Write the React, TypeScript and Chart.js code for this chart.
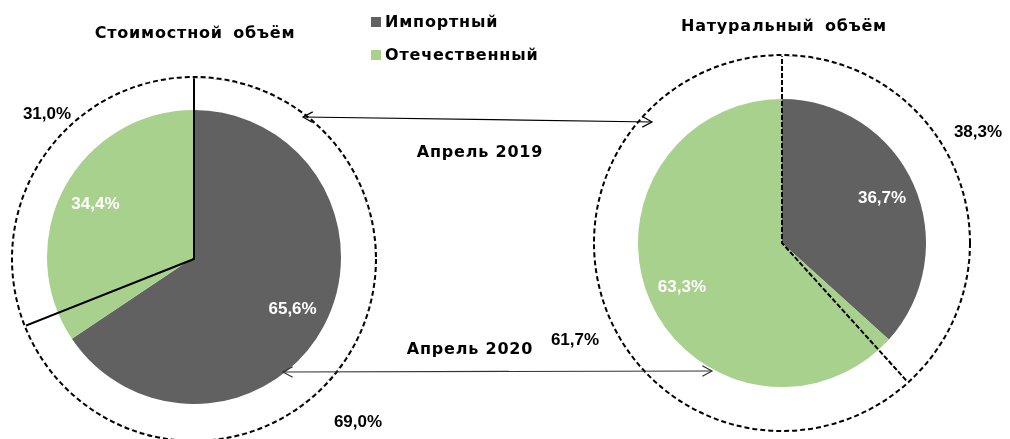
import React, { useEffect, useRef } from "react";
import { Chart, registerables } from "chart.js";

Chart.register(...registerables);

// ---- data ----
const categories = ["Импортный", "Отечественный"];
const valueShare2020 = [65.6, 34.4];
const valueShare2019 = [69.0, 31.0];
const volumeShare2020 = [36.7, 63.3];
const volumeShare2019 = [38.3, 61.7];
const chartTitles = ["Стоимостной объём", "Натуральный объём"];
const periodLabels = ["Апрель 2019", "Апрель 2020"];

const colors = ["#616161", "#A9D18E"];
const fmt = (v: number) => v.toFixed(1).replace(".", ",") + "%";

const NUM_FONT = "'Liberation Sans', Arial, sans-serif";
const TXT_FONT = "'DejaVu Sans', Verdana, sans-serif";

// white labels inside filled pies
const innerLabelPlugin = {
  id: "innerLabels",
  afterDatasetsDraw(chart: any) {
    const ctx = chart.ctx;
    const meta = chart.getDatasetMeta(0);
    const ds = chart.data.datasets[0];
    ctx.save();
    ctx.fillStyle = "#ffffff";
    ctx.font = `bold 17px ${NUM_FONT}`;
    ctx.textAlign = "center";
    ctx.textBaseline = "middle";
    meta.data.forEach((arc: any, i: number) => {
      const p = arc.getProps(["x", "y", "startAngle", "endAngle", "outerRadius"], true);
      const mid = (p.startAngle + p.endAngle) / 2;
      const r = p.outerRadius * 0.76;
      ctx.fillText(fmt(ds.data[i]), p.x + Math.cos(mid) * r, p.y + Math.sin(mid) * r);
    });
    ctx.restore();
  },
};

// outer (previous year) pie: clip away its rim and draw a dashed circle instead
const outerRingPlugin = {
  id: "outerRing",
  beforeDatasetDraw(chart: any) {
    const arc = chart.getDatasetMeta(0).data[0];
    const p = arc.getProps(["x", "y", "outerRadius"], true);
    const ctx = chart.ctx;
    ctx.save();
    ctx.beginPath();
    ctx.arc(p.x, p.y, p.outerRadius - 1.2, 0, Math.PI * 2);
    ctx.clip();
  },
  afterDatasetDraw(chart: any) {
    const ctx = chart.ctx;
    ctx.restore();
    const arc = chart.getDatasetMeta(0).data[0];
    const p = arc.getProps(["x", "y", "outerRadius"], true);
    ctx.save();
    ctx.strokeStyle = "#000";
    ctx.lineWidth = 2;
    ctx.setLineDash([5, 3]);
    ctx.beginPath();
    ctx.arc(p.x, p.y, p.outerRadius, 0, Math.PI * 2);
    ctx.stroke();
    ctx.restore();
  },
};

function makeInner(values: number[]) {
  return {
    type: "pie" as const,
    data: {
      labels: categories,
      datasets: [{ data: values, backgroundColor: colors, borderWidth: 0 }],
    },
    options: {
      animation: false,
      responsive: true,
      maintainAspectRatio: false,
      events: [],
      layout: { padding: 0 },
      plugins: { legend: { display: false }, tooltip: { enabled: false } },
    },
    plugins: [innerLabelPlugin],
  };
}

function makeOuter(values: number[], dash: number[]) {
  return {
    type: "pie" as const,
    data: {
      labels: categories,
      datasets: [
        {
          data: values,
          backgroundColor: "rgba(0,0,0,0)",
          // only the first slice is stroked: its outline already holds both radial edges
          borderColor: ["#000000", "rgba(0,0,0,0)"],
          borderWidth: 2,
          borderDash: dash,
          borderJoinStyle: "miter",
        },
      ],
    },
    options: {
      animation: false,
      responsive: true,
      maintainAspectRatio: false,
      events: [],
      layout: { padding: 0 },
      plugins: {
        legend: { display: false },
        tooltip: { enabled: false },
      },
    },
    plugins: [outerRingPlugin],
  };
}

function PieCanvas({ left, top, size, config, z }: any) {
  const ref = useRef<HTMLCanvasElement>(null);
  useEffect(() => {
    const chart = new Chart(ref.current as HTMLCanvasElement, config);
    return () => chart.destroy();
  }, []);
  return (
    <div style={{ position: "absolute", left, top, width: size, height: size, zIndex: z }}>
      <canvas ref={ref} />
    </div>
  );
}

function Label({ x, y, children, style }: any) {
  return (
    <div
      style={{
        position: "absolute",
        left: x,
        top: y,
        transform: "translate(-50%, -50%)",
        whiteSpace: "pre",
        lineHeight: 1,
        ...style,
      }}
    >
      {children}
    </div>
  );
}

const numStyle = { fontFamily: NUM_FONT, fontWeight: "bold", fontSize: 17, color: "#000" };
const txtStyle = {
  fontFamily: TXT_FONT,
  fontWeight: "bold",
  fontSize: 16,
  letterSpacing: "0.8px",
  color: "#000",
};

function Arrow({ x1, y1, x2, y2, color }: any) {
  const head = (tx: number, ty: number, fx: number, fy: number) => {
    const a = Math.atan2(ty - fy, tx - fx);
    const L = 11, W = 0.5;
    const p1 = [tx - L * Math.cos(a - W), ty - L * Math.sin(a - W)];
    const p2 = [tx - L * Math.cos(a + W), ty - L * Math.sin(a + W)];
    return `M${p1[0]},${p1[1]} L${tx},${ty} L${p2[0]},${p2[1]}`;
  };
  return (
    <g stroke={color} strokeWidth={1.2} fill="none">
      <line x1={x1} y1={y1} x2={x2} y2={y2} />
      <path d={head(x1, y1, x2, y2)} />
      <path d={head(x2, y2, x1, y1)} />
    </g>
  );
}

export default function App() {
  return (
    <div
      style={{
        position: "absolute",
        left: 0,
        top: 0,
        width: 1010,
        height: 439,
        overflow: "hidden",
        background: "#fff",
      }}
    >
      <PieCanvas left={47} top={110} size={294} config={makeInner(valueShare2020)} z={1} />
      <PieCanvas left={11} top={76} size={366} config={makeOuter(valueShare2019, [])} z={2} />
      <PieCanvas left={638} top={99} size={288} config={makeInner(volumeShare2020)} z={1} />
      <PieCanvas left={593} top={54} size={378} config={makeOuter(volumeShare2019, [5, 2])} z={2} />

      <svg width={1010} height={439} style={{ position: "absolute", left: 0, top: 0, zIndex: 3 }}>
        <Arrow x1={303} y1={117} x2={652} y2={122} color="#000" />
        <Arrow x1={283} y1={372} x2={712} y2={371} color="#333" />
      </svg>

      <div style={{ position: "absolute", left: 0, top: 0, width: 1010, height: 439, zIndex: 4 }}>
        <Label x={195} y={33} style={{ ...txtStyle, wordSpacing: 4 }}>{chartTitles[0]}</Label>
        <Label x={784} y={26} style={{ ...txtStyle, wordSpacing: 4 }}>{chartTitles[1]}</Label>

        <div style={{ position: "absolute", left: 371, top: 17, width: 10, height: 10, background: colors[0] }} />
        <div style={{ position: "absolute", left: 385, top: 22, transform: "translateY(-50%)", lineHeight: 1, ...txtStyle }}>
          {categories[0]}
        </div>
        <div style={{ position: "absolute", left: 371, top: 50, width: 10, height: 10, background: colors[1] }} />
        <div style={{ position: "absolute", left: 385, top: 55, transform: "translateY(-50%)", lineHeight: 1, ...txtStyle }}>
          {categories[1]}
        </div>

        <Label x={480} y={152} style={txtStyle}>{periodLabels[0]}</Label>
        <Label x={470} y={349} style={txtStyle}>{periodLabels[1]}</Label>

        <Label x={47} y={113} style={numStyle}>{fmt(valueShare2019[1])}</Label>
        <Label x={358} y={421} style={numStyle}>{fmt(valueShare2019[0])}</Label>
        <Label x={978} y={131} style={numStyle}>{fmt(volumeShare2019[0])}</Label>
        <Label x={575} y={339} style={numStyle}>{fmt(volumeShare2019[1])}</Label>
      </div>
    </div>
  );
}
